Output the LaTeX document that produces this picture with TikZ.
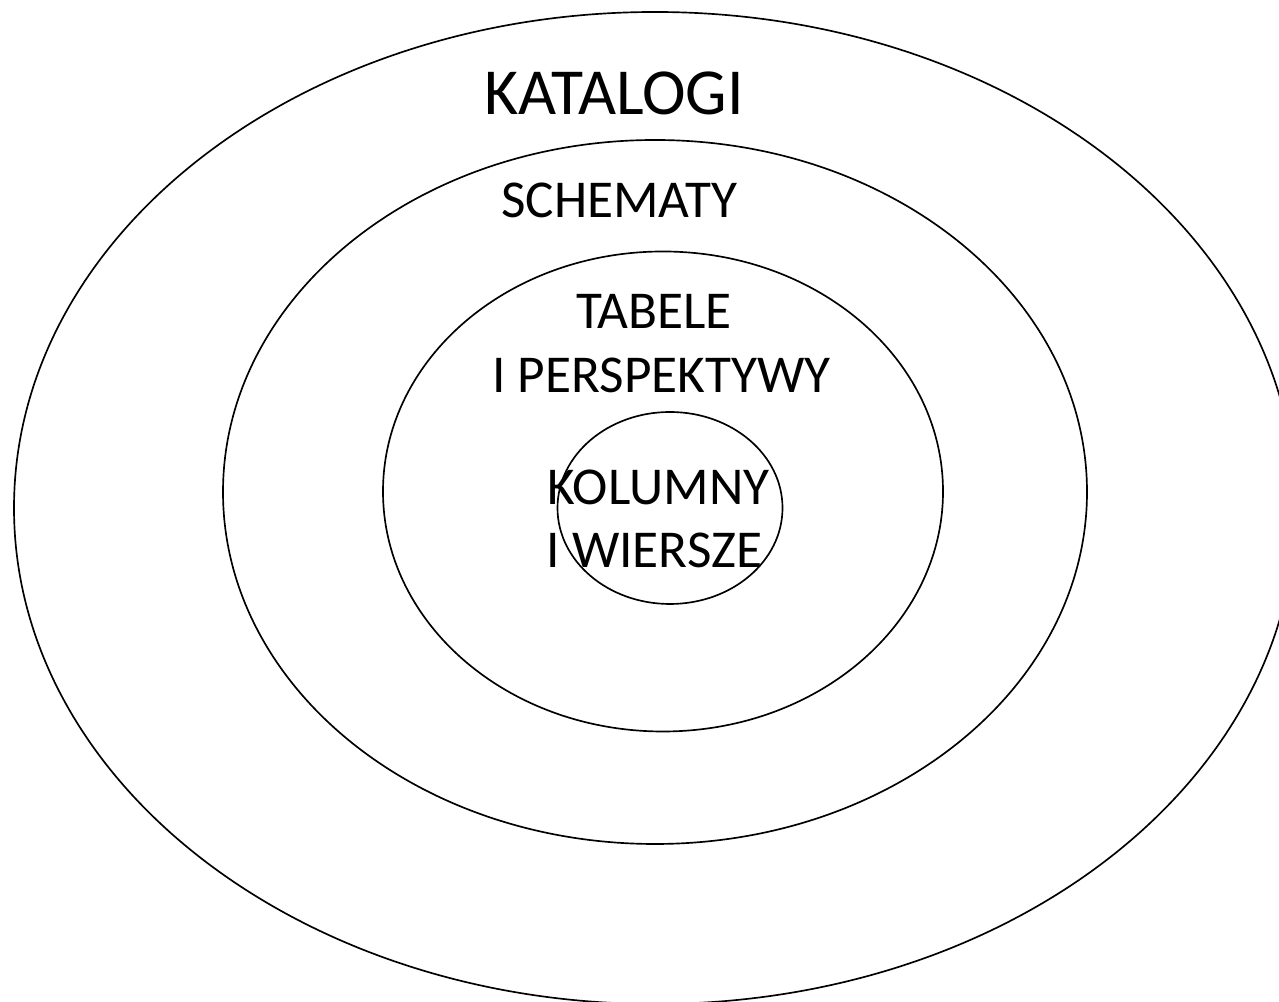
\documentclass[tikz,border=0pt]{standalone}
\usepackage{fontspec}
\setmainfont{Carlito}
\usepackage{tikz}
\usetikzlibrary{positioning}

\begin{document}
\begin{tikzpicture}

\useasboundingbox (0,0) rectangle (25.58,20.04);
\clip (0,0) rectangle (25.58,20.04);

\tikzset{
  ring/.style={draw=black,line width=0.95pt},
  biglabel/.style={anchor=base,inner sep=0pt,font=\fontsize{37.4}{46}\selectfont},
  ringlabel/.style={anchor=base,inner sep=0pt,font=\fontsize{30.3}{37}\selectfont}
}

% Nested levels, outermost first
\draw[ring] (13.10,9.88) ellipse (12.82 and 9.92);
\draw[ring] (13.10,10.20) ellipse (8.64 and 7.04);
\draw[ring] (13.26,10.21) ellipse (5.60 and 4.80);
\draw[ring] (13.40,9.88) ellipse (2.25 and 1.92);

% Level names
\node[biglabel] (katalogi) at (12.28,17.74) {KATALOGI};
\node[ringlabel] (schematy) at (12.39,15.68) {SCHEMATY};
\node[ringlabel] (tabele) at (13.08,13.46) {TABELE};
\node[ringlabel] (perspektywy) at (13.23,12.18) {I PERSPEKTYWY};
\node[ringlabel] (kolumny) at (13.17,9.94) {KOLUMNY};
\node[ringlabel] (wiersze) at (13.09,8.68) {I WIERSZE};

\end{tikzpicture}
\end{document}
